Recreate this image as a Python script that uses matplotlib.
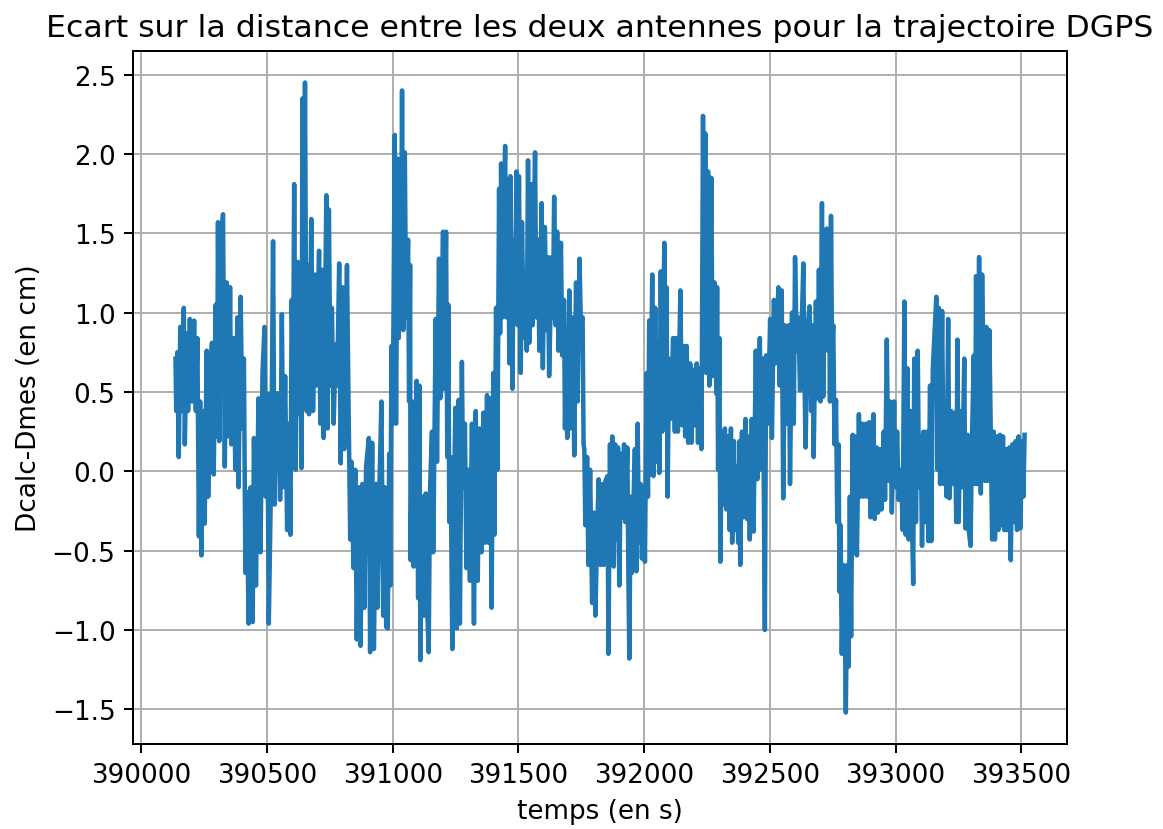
import numpy as np
from matplotlib import pyplot as plt

# temps (s) et ecart Dcalc-Dmes (cm) (extremes successifs)
temps = [
    390136, 390139, 390143, 390149, 390155, 390160, 390169, 390173, 390181, 390186,
    390193, 390202, 390210, 390217, 390223, 390229, 390234, 390239, 390247, 390252,
    390260, 390266, 390273, 390281, 390288, 390296, 390301, 390305, 390310, 390318,
    390325, 390332, 390340, 390346, 390353, 390358, 390366, 390374, 390382, 390387,
    390395, 390402, 390408, 390414, 390419, 390427, 390435, 390443, 390448, 390456,
    390466, 390474, 390482, 390490, 390495, 390501, 390507, 390517, 390524, 390530,
    390538,
    390547, 390552, 390559, 390565, 390572, 390580, 390587, 390593, 390598, 390604,
    390608, 390614, 390622, 390628, 390633, 390637, 390641, 390645, 390651, 390657,
    390662, 390667, 390676, 390683, 390691, 390696, 390707, 390712, 390720, 390725,
    390736, 390741, 390746, 390752, 390758, 390765, 390773, 390779, 390787, 390793,
    390801, 390807, 390818, 390824, 390831, 390836, 390844, 390851, 390857, 390864,
    390872, 390879, 390887, 390894, 390905, 390910, 390918, 390925, 390933, 390939,
    390947, 390955, 390962, 390968, 390974,
    390980, 390986, 390990, 390995, 391000, 391008, 391013, 391020, 391024, 391029,
    391033, 391037, 391042, 391048, 391053, 391061, 391065, 391069, 391071, 391077,
    391083, 391090, 391095, 391101, 391106, 391110, 391116, 391123, 391131, 391138,
    391143, 391148, 391156, 391161, 391171, 391176, 391184, 391189, 391200, 391205,
    391212, 391217, 391221, 391225, 391230, 391237, 391242, 391249, 391254, 391262,
    391267, 391275, 391280, 391287, 391293, 391301, 391307, 391315, 391323, 391330,
    391338, 391346, 391353, 391361, 391367, 391375, 391381, 391387, 391393, 391400,
    391404, 391411, 391416,
    391423, 391427, 391431, 391436, 391441, 391447, 391452, 391457, 391464, 391468,
    391476, 391481, 391486, 391492, 391497, 391502, 391509, 391514, 391521, 391527,
    391533, 391538, 391543, 391551, 391556, 391566, 391571, 391578, 391583, 391592,
    391597, 391605, 391612, 391617, 391622, 391632, 391637, 391642, 391648, 391654,
    391659, 391669, 391674, 391681, 391685, 391690, 391694, 391702, 391707, 391715,
    391722, 391729, 391735, 391743, 391748, 391755, 391759, 391762, 391766, 391773,
    391778, 391785, 391793, 391799, 391806, 391813, 391819, 391826, 391834, 391839,
    391846,
    391854, 391858, 391864, 391868, 391873, 391879, 391885, 391891, 391896, 391901,
    391908, 391913, 391920, 391925, 391933, 391937, 391941, 391946, 391951, 391958,
    391963, 391969, 391974, 391979, 391986, 391991, 391998, 392003, 392010, 392015,
    392020, 392024, 392032, 392037, 392044, 392049, 392056, 392060, 392066, 392072,
    392080, 392085, 392089, 392093, 392099, 392105, 392115, 392122, 392128, 392134,
    392144, 392150, 392158, 392163, 392169, 392175, 392183, 392188, 392196, 392201,
    392209, 392214, 392222, 392228, 392234, 392238, 392243, 392247, 392254, 392259,
    392267, 392272, 392280, 392287,
    392290, 392294, 392299, 392303, 392309, 392315, 392321, 392327, 392333, 392340,
    392345, 392350, 392357, 392362, 392369, 392374, 392379, 392382, 392389, 392394,
    392403, 392409, 392415, 392420, 392428, 392435, 392444, 392450, 392460, 392465,
    392472, 392480, 392485, 392492, 392501, 392508, 392516, 392522, 392534, 392539,
    392547, 392553, 392560, 392567, 392575, 392580, 392588, 392595, 392600, 392607,
    392613, 392620, 392633, 392638, 392642, 392649, 392658, 392664, 392670, 392674,
    392683, 392689, 392695, 392701, 392707, 392712, 392719, 392724,
    392726, 392730, 392735, 392739, 392743, 392747, 392752, 392757, 392763, 392768,
    392773, 392777, 392781, 392786, 392792, 392797, 392802, 392808, 392813, 392818,
    392823, 392829, 392834, 392839, 392846, 392854, 392859, 392867, 392872, 392882,
    392887, 392895, 392900, 392912, 392917, 392925, 392930, 392938, 392944, 392953,
    392958, 392965, 392971, 392978, 392985, 392994, 392999, 393006, 393012, 393022,
    393028, 393035, 393040, 393047, 393052, 393060, 393067, 393070, 393074, 393081,
    393088, 393093, 393100, 393105, 393111, 393117, 393125, 393130, 393137, 393142,
    393148,
    393162, 393167, 393172, 393177, 393185, 393191, 393199, 393203, 393209, 393214,
    393221, 393228, 393236, 393241, 393246, 393251, 393258, 393265, 393273, 393278,
    393286, 393291, 393298, 393304, 393311, 393316, 393320, 393325, 393332, 393339,
    393344, 393349, 393355, 393361, 393366, 393373, 393378, 393384, 393390, 393395,
    393402, 393409, 393415, 393421, 393427, 393432, 393439, 393444, 393452, 393458,
    393464, 393471, 393477, 393483, 393489, 393496, 393503, 393508, 393513,
]

ecart = [
    0.71, 0.38, 0.75, 0.09, 0.91, 0.38, 1.03, 0.17, 0.87, 0.38,
    0.96, 0.44, 0.95, 0.38, 0.84, -0.41, 0.44, -0.53, 0.38, -0.33,
    0.76, -0.16, 0.54, 0.81, -0.02, 1.05, 0.22, 1.57, 0.19, 1.46,
    1.62, 0.03, 1.19, 0.22, 1.16, 0.17, 0.84, 0.01, 0.97, -0.10,
    1.10, 0.27, 0.71, -0.64, -0.13, -0.96, -0.10, -0.95, 0.21, -0.72,
    0.46, -0.51, 0.62, 0.91, -0.16, 0.49, -0.96, 0.06, 1.45, -0.21,
    0.49,
    0.49, -0.18, 0.99, -0.10, 0.60, -0.37, 0.30, -0.40, 1.08, 0.65,
    1.81, 0.01, 1.32, 0.36, 1.30, 0.02, 2.35, 0.54, 2.45, 0.38,
    1.30, 0.36, 1.59, 0.38, 1.24, 0.54, 1.39, 0.30, 1.27, 0.21,
    1.74, 0.27, 1.65, 0.54, 1.03, 0.30, 0.80, 0.54, 1.31, 0.05,
    1.16, 0.14, 1.30, 0.44, -0.43, 0.06, -0.61, 0.01, -1.06, -0.10,
    -1.10, -0.08, -0.86, 0.03, 0.21, -1.14, 0.18, -1.12, -0.08, -0.86,
    -0.10, 0.44, -0.91, -0.10, -0.98,
    -0.99, 0.11, -0.72, 0.79, 0.30, 2.12, 0.30, 1.97, 0.84, 1.94,
    1.22, 2.40, 0.89, 2.01, 0.97, 1.46, 0.44, 1.30, -0.56, 0.44,
    -0.60, 0.25, 0.57, -0.80, 0.54, -1.19, -0.16, -0.91, -0.14, -0.91,
    -1.14, -0.13, 0.25, -0.51, 0.96, 0.06, 1.34, 0.46, 1.51, 0.52,
    1.51, 0.09, 1.05, -0.32, 0.09, -1.12, -0.37, 0.40, -0.99, 0.45,
    -0.96, 0.69, -0.10, 0.30, -0.61, 0.01, -0.69, 0.30, -0.96, 0.38,
    -0.69, 0.27, -0.51, 0.37, -0.45, 0.48, -0.45, 0.46, -0.86, 0.62,
    -0.40, 1.03, 0.01,
    1.78, 0.87, 1.94, 0.97, 1.51, 2.05, 0.97, 1.84, 0.68, 1.86,
    0.52, 1.46, 0.95, 1.89, 0.92, 1.86, 0.62, 1.57, 0.84, 1.24,
    0.76, 1.96, 0.81, 1.81, 0.92, 2.01, 0.97, 1.46, 0.76, 1.69,
    0.65, 1.54, 0.89, 1.35, 0.60, 1.35, 0.97, 1.73, 0.92, 1.51,
    0.76, 1.44, 0.73, 1.08, 0.27, 0.71, 0.21, 1.14, 0.27, 0.97,
    0.10, 1.19, 0.44, 1.34, 0.92, 0.97, 0.17, 0.14, -0.34, 0.09,
    -0.59, 0.01, -0.83, -0.26, -0.91, -0.37, -0.05, -0.59, -0.08, -0.59,
    -0.06,
    -0.03, -1.15, 0.17, -0.51, 0.22, -0.60, 0.17, -0.43, 0.15, -0.72,
    0.11, -0.29, 0.17, -0.32, 0.15, -0.61, -1.18, -0.16, -0.64, -0.16,
    0.14, -0.63, 0.30, -0.45, -0.08, -0.55, -0.10, -0.57, 0.62, -0.16,
    0.95, -0.02, 1.24, -0.03, 1.03, 0.06, 0.81, -0.01, 1.26, 0.25,
    1.44, 0.52, 1.16, -0.16, 0.71, 0.33, 0.84, 0.25, 0.84, 0.25,
    1.14, 0.29, 0.79, 0.22, 0.79, 0.18, 0.68, 0.18, 0.64, 0.29,
    0.68, 0.18, 0.65, 0.14, 2.24, 1.14, 2.13, 0.62, 1.89, 0.54,
    1.85, 0.60, 1.19, 0.49,
    1.16, 0.01, 0.84, -0.57, 0.25, -0.21, 0.27, -0.24, 0.22, -0.37,
    0.27, -0.45, 0.19, -0.37, 0.03, -0.45, 0.19, -0.59, 0.25, -0.29,
    0.33, -0.30, 0.22, -0.43, 0.33, -0.38, 0.76, -0.05, 0.84, 0.01,
    0.71, -1.00, 0.73, 0.30, 0.96, 0.21, 1.08, 0.68, 1.16, 0.54,
    1.14, -0.17, 0.92, 0.30, 0.92, -0.08, 1.00, 0.30, 1.35, 0.76,
    0.97, 0.51, 1.31, 0.54, 0.15, 0.87, 1.04, 0.38, 0.92, 0.09,
    1.07, 0.46, 1.27, 0.44, 1.69, 0.47, 1.51, 0.87,
    1.53, 0.76, 1.38, 0.44, 1.61, 0.76, 0.92, 0.17, 0.45, -0.32,
    0.17, -0.76, -0.34, -1.15, -0.59, -0.78, -1.52, -0.59, -1.23, -0.16,
    -1.04, 0.23, -0.51, 0.22, -0.53, 0.36, -0.16, 0.30, -0.16, 0.30,
    -0.16, 0.31, -0.29, 0.36, -0.30, 0.15, -0.26, 0.14, -0.24, 0.25,
    -0.18, 0.83, -0.06, 0.44, -0.26, 0.44, -0.10, 0.25, -0.18, 0.01,
    -0.37, 1.07, -0.40, 0.65, -0.43, 0.38, -0.45, -0.71, 0.71, -0.32,
    0.76, -0.10, 0.22, -0.47, 0.25, -0.32, 0.25, -0.44, 0.54, -0.44,
    0.65,
    1.10, 0.01, 1.03, -0.08, 1.01, -0.08, 0.44, -0.16, 0.96, -0.17,
    0.38, -0.08, 0.37, -0.32, 0.83, -0.32, 0.38, -0.10, 0.71, -0.36,
    0.23, -0.37, -0.47, 0.22, 0.73, -0.08, 1.23, -0.08, 1.35, -0.14,
    1.24, 0.57, -0.06, 0.91, -0.06, 0.89, 0.27, -0.43, 0.25, -0.43,
    0.22, -0.37, 0.23, -0.34, 0.22, -0.37, 0.14, -0.37, 0.15, -0.56,
    0.17, -0.32, 0.19, -0.37, 0.22, -0.36, 0.19, -0.16, 0.23,
]


if __name__ == '__main__':
    t = np.array(temps)
    e = np.array(ecart)

    plt.rcParams['font.size'] = 10.5

    plt.figure(figsize=(1163 / 180, 830 / 180), dpi=180)
    plt.plot(t, e, linewidth=1.8)
    plt.title('Ecart sur la distance entre les deux antennes pour la trajectoire DGPS')
    plt.xlabel('temps (en s)')
    plt.ylabel('Dcalc-Dmes (en cm)')
    plt.grid(True)
    plt.subplots_adjust(left=0.1144, right=0.9175, top=0.9373, bottom=0.1024)
    plt.savefig('out.png', dpi=180)
